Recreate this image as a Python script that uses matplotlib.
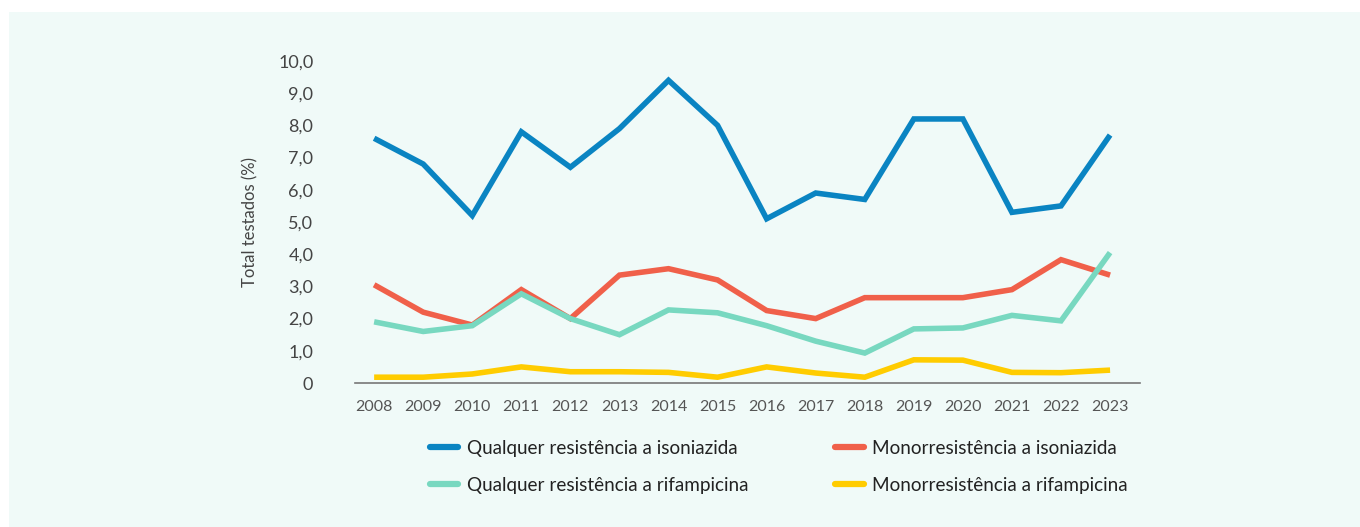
import matplotlib
matplotlib.use("Agg")
import matplotlib.pyplot as plt
from matplotlib.patches import Rectangle

years = [str(y) for y in range(2008, 2024)]
qualquer_inh = [7.6, 6.8, 5.2, 7.8, 6.7, 7.9, 9.4, 8.0, 5.1, 5.9, 5.7, 8.2, 8.2, 5.3, 5.5, 7.7]
mono_inh = [3.05, 2.2, 1.8, 2.9, 2.0, 3.35, 3.55, 3.2, 2.25, 2.0, 2.65, 2.65, 2.65, 2.9, 3.83, 3.35]
qualquer_rif = [1.9, 1.6, 1.78, 2.77, 2.0, 1.5, 2.27, 2.18, 1.78, 1.3, 0.93, 1.68, 1.71, 2.1, 1.93, 4.05]
mono_rif = [0.18, 0.18, 0.28, 0.5, 0.35, 0.35, 0.33, 0.18, 0.5, 0.31, 0.18, 0.72, 0.71, 0.33, 0.32, 0.4]
yticks = [0, 1, 2, 3, 4, 5, 6, 7, 8, 9, 10]
ytick_labels = ["0", "1,0", "2,0", "3,0", "4,0", "5,0", "6,0", "7,0", "8,0", "9,0", "10,0"]
labels = ["Qualquer resistência a isoniazida", "Monorresistência a isoniazida",
          "Qualquer resistência a rifampicina", "Monorresistência a rifampicina"]
colors = ["#0a84c2", "#f0604a", "#78d8c0", "#ffcc00"]

plt.rcParams['font.family'] = ['Lato', 'DejaVu Sans']
W, H = 1360, 527
fig = plt.figure(figsize=(W / 100, H / 100), dpi=100)
fig.patch.set_facecolor("white")
bg = "#f0faf8"
fig.patches.append(Rectangle((9 / W, 0), 1 - 9 / W, 1 - 12 / H, transform=fig.transFigure,
                             facecolor=bg, edgecolor="none", zorder=-10))

ax = fig.add_axes([355 / W, 1 - 383 / H, (1140 - 355) / W, (383 - 61) / H])
ax.set_facecolor("none")
x = list(range(len(years)))
series = [qualquer_inh, mono_inh, qualquer_rif, mono_rif]
lines = []
for s, c, l in zip(series, colors, labels):
    ln, = ax.plot(x, s, color=c, lw=4, label=l, solid_joinstyle="miter", solid_capstyle="butt")
    lines.append(ln)

ax.set_xlim(-0.39, 15.61)
ax.set_ylim(0, 10)
ax.set_xticks(x)
ax.set_xticklabels(years, fontsize=11.5, color="#555555")
ax.set_yticks(yticks)
ax.set_yticklabels(ytick_labels, fontsize=13, color="#444444")
ax.tick_params(axis="both", length=0)
ax.tick_params(axis="x", pad=12)
ax.tick_params(axis="y", pad=30)
for sp in ["top", "right", "left"]:
    ax.spines[sp].set_visible(False)
ax.spines["bottom"].set_color("#777777")
ax.spines["bottom"].set_linewidth(1.2)
ax.set_ylabel("Total testados (%)", fontsize=12, color="#444444", labelpad=14)

order = [0, 2, 1, 3]
leg = fig.legend([lines[i] for i in order], [labels[i] for i in order], ncol=2,
                 loc="center", bbox_to_anchor=(779 / W, 1 - 467 / H), frameon=False,
                 fontsize=13.6, handlelength=1.5, handletextpad=0.45, columnspacing=4.6,
                 labelspacing=1.05, labelcolor="#222222")
for h in leg.get_lines():
    h.set_linewidth(4.5)
    h.set_solid_capstyle("round")

fig.savefig("out.png", dpi=100, facecolor=fig.get_facecolor())
